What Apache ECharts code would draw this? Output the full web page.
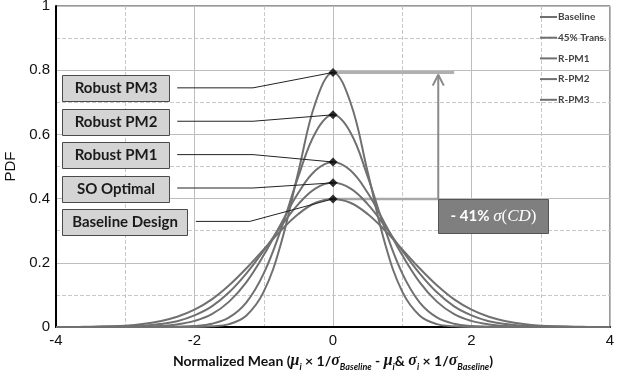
<!DOCTYPE html>
<html>
<head>
<meta charset="utf-8">
<script src="https://cdn.jsdelivr.net/npm/echarts@6/dist/echarts.min.js"></script>
<style>
html, body { margin: 0; padding: 0; background: #fff; }
#main { width: 631px; height: 375px; }
</style>
</head>
<body>
<div id="main"></div>
<script>
// x positions of the curve samples
var xs = [-4, -3.75, -3.5, -3.25, -3, -2.75, -2.5, -2.25, -2, -1.75, -1.5, -1.25, -1, -0.75, -0.5, -0.25,
          0, 0.25, 0.5, 0.75, 1, 1.25, 1.5, 1.75, 2, 2.25, 2.5, 2.75, 3, 3.25, 3.5, 3.75, 4];

// PDF values
var baseline = [0.000, 0.000, 0.001, 0.002, 0.004, 0.009, 0.018, 0.032, 0.054, 0.086, 0.130, 0.183, 0.242, 0.301, 0.352, 0.387,
                0.399, 0.387, 0.352, 0.301, 0.242, 0.183, 0.130, 0.086, 0.054, 0.032, 0.018, 0.009, 0.004, 0.002, 0.001, 0.000, 0.000];
var trans45 = [0.000, 0.000, 0.000, 0.001, 0.002, 0.004, 0.009, 0.018, 0.036, 0.064, 0.108, 0.167, 0.238, 0.314, 0.383, 0.432,
               0.449, 0.432, 0.383, 0.314, 0.238, 0.167, 0.108, 0.064, 0.036, 0.018, 0.009, 0.004, 0.002, 0.001, 0.000, 0.000, 0.000];
var rpm1 = [0.000, 0.000, 0.000, 0.000, 0.000, 0.001, 0.003, 0.008, 0.019, 0.040, 0.079, 0.140, 0.224, 0.322, 0.418, 0.488,
            0.514, 0.488, 0.418, 0.322, 0.224, 0.140, 0.079, 0.040, 0.019, 0.008, 0.003, 0.001, 0.000, 0.000, 0.000, 0.000, 0.000];
var rpm2 = [0.000, 0.000, 0.000, 0.000, 0.000, 0.000, 0.000, 0.001, 0.003, 0.010, 0.030, 0.077, 0.167, 0.305, 0.469, 0.607,
            0.661, 0.607, 0.469, 0.305, 0.167, 0.077, 0.030, 0.010, 0.003, 0.001, 0.000, 0.000, 0.000, 0.000, 0.000, 0.000, 0.000];
var rpm3 = [0.000, 0.000, 0.000, 0.000, 0.000, 0.000, 0.000, 0.000, 0.000, 0.002, 0.009, 0.036, 0.110, 0.261, 0.484, 0.701,
            0.793, 0.701, 0.484, 0.261, 0.110, 0.036, 0.009, 0.002, 0.000, 0.000, 0.000, 0.000, 0.000, 0.000, 0.000, 0.000, 0.000];

var seriesNames = ['Baseline', '45% Trans.', 'R-PM1', 'R-PM2', 'R-PM3'];
var seriesVals = [baseline, trans45, rpm1, rpm2, rpm3];

// peaks marked with diamonds
var peakX = [0, 0, 0, 0, 0];
var peakY = [0.399, 0.449, 0.514, 0.661, 0.793];

// call-out boxes (order: PM3 .. Baseline)
var boxText = ['Robust PM3', 'Robust PM2', 'Robust PM1', 'SO Optimal', 'Baseline Design'];
var boxX = [-3.14, -3.14, -3.14, -3.14, -3.01];
var boxY = [0.743, 0.640, 0.537, 0.430, 0.327];
var boxW = [107, 107, 107, 107, 125];
var connStart = [-2.25, -2.25, -2.25, -2.25, -1.98];
var connBend = [-1.155, -1.155, -1.155, -1.155, -1.2];
var connY = [0.745, 0.641, 0.537, 0.433, 0.329];
var connPeak = [0.793, 0.661, 0.514, 0.449, 0.399];

var xTicks = [-4, -2, 0, 2, 4];

var myChart = echarts.init(document.getElementById('main'));

var series = [];
seriesVals.forEach(function (vals, k) {
    series.push({
        type: 'line',
        name: seriesNames[k],
        data: xs.map(function (x, i) { return [x, vals[i]]; }),
        smooth: 0.4,
        showSymbol: false,
        lineStyle: { color: '#707070', width: 2 },
        itemStyle: { color: '#707070' },
        z: 3
    });
});

// gray reference lines and arrow
series.push({
    type: 'line', data: [[0, 0.793], [1.75, 0.793]], showSymbol: false,
    lineStyle: { color: '#b0b0b0', width: 3 }, z: 2
});
series.push({
    type: 'line', data: [[0, 0.399], [1.52, 0.399]], showSymbol: false,
    lineStyle: { color: '#a8a8a8', width: 2.5 }, z: 2
});
series.push({
    type: 'line', data: [[1.52, 0.399], [1.52, 0.786]], showSymbol: false,
    lineStyle: { color: '#8a8a8a', width: 2 }, z: 2
});
series.push({
    type: 'line', data: [[1.44, 0.752], [1.52, 0.786], [1.60, 0.752]], showSymbol: false,
    lineStyle: { color: '#8a8a8a', width: 2 }, z: 2
});

// connectors
boxText.forEach(function (t, i) {
    series.push({
        type: 'line',
        data: [[connStart[i], connY[i]], [connBend[i], connY[i]], [0, connPeak[i]]],
        showSymbol: false,
        lineStyle: { color: '#222', width: 1 },
        z: 4
    });
});

// peak diamonds
series.push({
    type: 'scatter',
    data: peakX.map(function (x, i) { return [x, peakY[i]]; }),
    symbol: 'diamond', symbolSize: 9,
    itemStyle: { color: '#000' },
    z: 6
});

var option = {
    animation: false,
    grid: { left: 56, right: 21, top: 6, bottom: 48, outerBoundsMode: 'none', containLabel: false,
        show: true, borderColor: '#333', borderWidth: 1 },
    legend: {
        data: seriesNames,
        orient: 'vertical',
        left: 540, top: 11,
        padding: 0,
        itemWidth: 17, itemHeight: 2, itemGap: 8.7,
        icon: 'rect',
        textStyle: { fontFamily: 'Lato', fontWeight: 'bold', fontSize: 10, color: '#444', lineHeight: 12, padding: [0, 0, 0, -4] }
    },
    xAxis: {
        type: 'value', min: -4, max: 4, interval: 2,
        axisLine: { onZero: false, lineStyle: { color: '#000', width: 2 } },
        axisTick: { show: false },
        axisLabel: { color: '#111', fontFamily: 'Liberation Sans', fontSize: 15, margin: 6,
            formatter: function (v) { return xTicks.indexOf(v) >= 0 ? String(v) : ''; } },
        splitLine: { show: true, lineStyle: { color: '#bdbdbd', width: 1 } },
        minorTick: { show: false, splitNumber: 2 },
        minorSplitLine: { show: true, lineStyle: { color: '#c8c8c8', type: 'dashed', width: 1 } },
        name: '{t|Normalized Mean (}{g|μ}{s|i}{t| × 1/}{g|σ}{s|Baseline}{t| - }{g|μ}{s|i}{t|& }{g|σ}{s|i}{t| × 1/}{g|σ}{s|Baseline}{t|)}',
        nameLocation: 'middle', nameGap: 22,
        nameTextStyle: {
            rich: {
                t: { fontFamily: 'Lato', fontWeight: 'bold', fontSize: 14, color: '#111', lineHeight: 18, verticalAlign: 'bottom' },
                g: { fontFamily: 'Liberation Serif', fontStyle: 'italic', fontWeight: 'bold', fontSize: 16, color: '#111', lineHeight: 18, verticalAlign: 'bottom' },
                s: { fontFamily: 'Lato', fontStyle: 'italic', fontWeight: 'bold', fontSize: 9, color: '#111', lineHeight: 14, verticalAlign: 'bottom', padding: [0, 0, -3, 0] }
            }
        }
    },
    yAxis: {
        type: 'value', min: 0, max: 1, interval: 0.2,
        axisLine: { show: true, onZero: false, lineStyle: { color: '#000', width: 2 } },
        axisTick: { show: false },
        axisLabel: { color: '#111', fontFamily: 'Liberation Sans', fontSize: 15, margin: 6,
            formatter: function (v) { return String(Math.round(v * 10) / 10); } },
        splitLine: { show: true, lineStyle: { color: '#bdbdbd', width: 1 } },
        minorTick: { show: false, splitNumber: 2 },
        minorSplitLine: { show: true, lineStyle: { color: '#c8c8c8', type: 'dashed', width: 1 } },
        name: 'PDF', nameLocation: 'middle', nameGap: 24, nameRotate: 90,
        nameTextStyle: { fontFamily: 'Liberation Sans', fontSize: 15, color: '#111' }
    },
    series: series
};
myChart.setOption(option);

// call-out boxes placed through the axes
var graphics = [];
boxText.forEach(function (t, i) {
    var c = myChart.convertToPixel({ gridIndex: 0 }, [boxX[i], boxY[i]]);
    var w = boxW[i], h = 26;
    var x0 = Math.round(c[0] - w / 2) + 0.5, y0 = Math.round(c[1] - h / 2) + 0.5;
    graphics.push({
        type: 'rect', z: 100,
        shape: { x: x0, y: y0, width: w, height: h },
        style: { fill: '#d4d4d4', stroke: '#4a4a4a', lineWidth: 1 }
    });
    graphics.push({
        type: 'text', z: 101,
        x: x0 + w / 2, y: y0 + h / 2,
        style: { text: t, fill: '#1a1a1a', font: 'bold 15px Lato', align: 'center', verticalAlign: 'middle' }
    });
});
var cd = myChart.convertToPixel({ gridIndex: 0 }, [2.31, 0.346]);
var cw = 110, ch = 34;
var cx0 = Math.round(cd[0] - cw / 2) + 0.5, cy0 = Math.round(cd[1] - ch / 2) + 0.5;
graphics.push({
    type: 'rect', z: 100,
    shape: { x: cx0, y: cy0, width: cw, height: ch },
    style: { fill: '#7f7f7f', stroke: '#555', lineWidth: 1 }
});
graphics.push({
    type: 'text', z: 101,
    x: cx0 + cw / 2, y: cy0 + ch / 2,
    style: {
        text: '{a|- 41% }{b|σ}{c|(}{b|CD}{c|)}',
        align: 'center', verticalAlign: 'middle',
        rich: {
            a: { fill: '#fff', font: 'bold 15px Lato' },
            b: { fill: '#fff', font: 'italic 17px "Liberation Serif"' },
            c: { fill: '#fff', font: '17px "Liberation Serif"' }
        }
    }
});
myChart.setOption({ graphic: graphics });
</script>
</body>
</html>
